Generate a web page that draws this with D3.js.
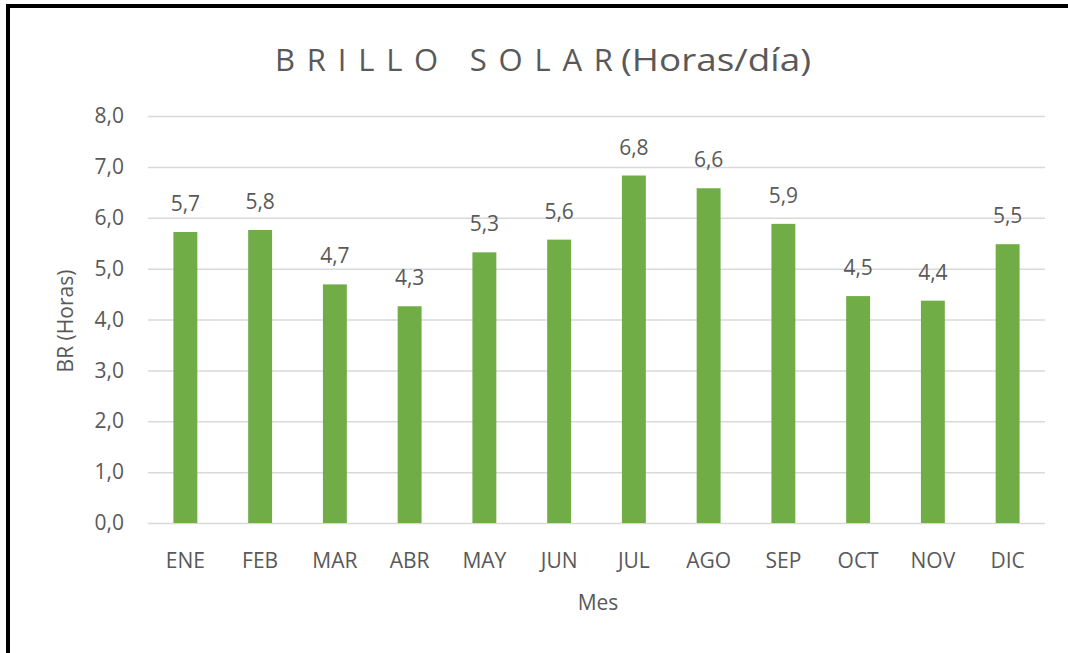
<!DOCTYPE html>
<html>
<head>
<meta charset="utf-8">
<script src="https://cdn.jsdelivr.net/npm/d3@7"></script>
<style>
  body { margin: 0; background: #fff; }
  svg text { font-family: "Open Sans", sans-serif; fill: #595959; }
</style>
</head>
<body>
<div id="chart"></div>
<script>
// data
const months = ['ENE', 'FEB', 'MAR', 'ABR', 'MAY', 'JUN', 'JUL', 'AGO', 'SEP', 'OCT', 'NOV', 'DIC']
const brillo = [5.72, 5.76, 4.69, 4.26, 5.32, 5.57, 6.83, 6.58, 5.88, 4.46, 4.37, 5.48]
const yTicks = [0, 1, 2, 3, 4, 5, 6, 7, 8]

const width = 1068, height = 653
const margin = {top: 116, right: 23, bottom: 130, left: 148}
const innerWidth = width - margin.left - margin.right
const innerHeight = height - margin.top - margin.bottom
const fontSize = 21

const svg = d3.select('#chart').append('svg')
    .attr('width', width)
    .attr('height', height)

// black frame (top and left edges only)
svg.append('line')
    .attr('x1', 6).attr('x2', width).attr('y1', 6).attr('y2', 6)
    .attr('stroke', '#000').attr('stroke-width', 4)
svg.append('line')
    .attr('x1', 8).attr('x2', 8).attr('y1', 4).attr('y2', height)
    .attr('stroke', '#000').attr('stroke-width', 4)

const g = svg.append('g')
    .attr('transform', `translate(${margin.left},${margin.top})`)

const xScale = d3.scaleBand()
    .domain(months)
    .range([0, innerWidth])
    .paddingInner(0.68)
    .paddingOuter(0.34)

const yScale = d3.scaleLinear()
    .domain([0, 8])
    .range([innerHeight, 0])

const fmt = v => d3.format('.1f')(v).replace('.', ',')

// y axis with gridlines
const yAxis = d3.axisLeft(yScale)
    .tickValues(yTicks)
    .tickSize(-innerWidth)
    .tickPadding(24)
    .tickFormat(fmt)

const yAxisG = g.append('g').call(yAxis)
yAxisG.select('.domain').remove()
yAxisG.selectAll('line').attr('stroke', '#d9d9d9').attr('stroke-width', 1.5)
yAxisG.selectAll('text').attr('font-size', fontSize)

// x axis labels
const xAxis = d3.axisBottom(xScale).tickSize(0).tickPadding(30)
const xAxisG = g.append('g').call(xAxis)
    .attr('transform', `translate(0,${innerHeight})`)
xAxisG.select('.domain').remove()
xAxisG.selectAll('text').attr('font-size', fontSize)

// bars
g.append('g').selectAll('rect').data(brillo)
    .enter()
    .append('rect')
    .attr('x', (d, i) => xScale(months[i]))
    .attr('y', d => yScale(d))
    .attr('width', xScale.bandwidth())
    .attr('height', d => innerHeight - yScale(d))
    .attr('fill', '#70ad47')

// value labels
g.append('g').selectAll('text').data(brillo)
    .enter()
    .append('text')
    .attr('x', (d, i) => xScale(months[i]) + xScale.bandwidth() / 2)
    .attr('y', d => yScale(d) - 21)
    .attr('text-anchor', 'middle')
    .attr('font-size', fontSize)
    .text(fmt)

// title, in two pieces: spaced capitals then the unit
svg.append('text')
    .attr('x', 275)
    .attr('y', 71)
    .attr('font-size', 31)
    .attr('textLength', 338)
    .attr('lengthAdjust', 'spacing')
    .style('white-space', 'pre')
    .text('B R I L L O   S O L A R')

svg.append('text')
    .attr('x', 621)
    .attr('y', 71)
    .attr('font-size', 31)
    .attr('textLength', 190)
    .attr('lengthAdjust', 'spacingAndGlyphs')
    .text('(Horas/día)')

// axis titles
svg.append('text')
    .attr('transform', 'translate(73,321) rotate(-90)')
    .attr('text-anchor', 'middle')
    .attr('font-size', fontSize)
    .text('BR (Horas)')

svg.append('text')
    .attr('x', 598)
    .attr('y', 610)
    .attr('text-anchor', 'middle')
    .attr('font-size', fontSize)
    .text('Mes')
</script>
</body>
</html>
